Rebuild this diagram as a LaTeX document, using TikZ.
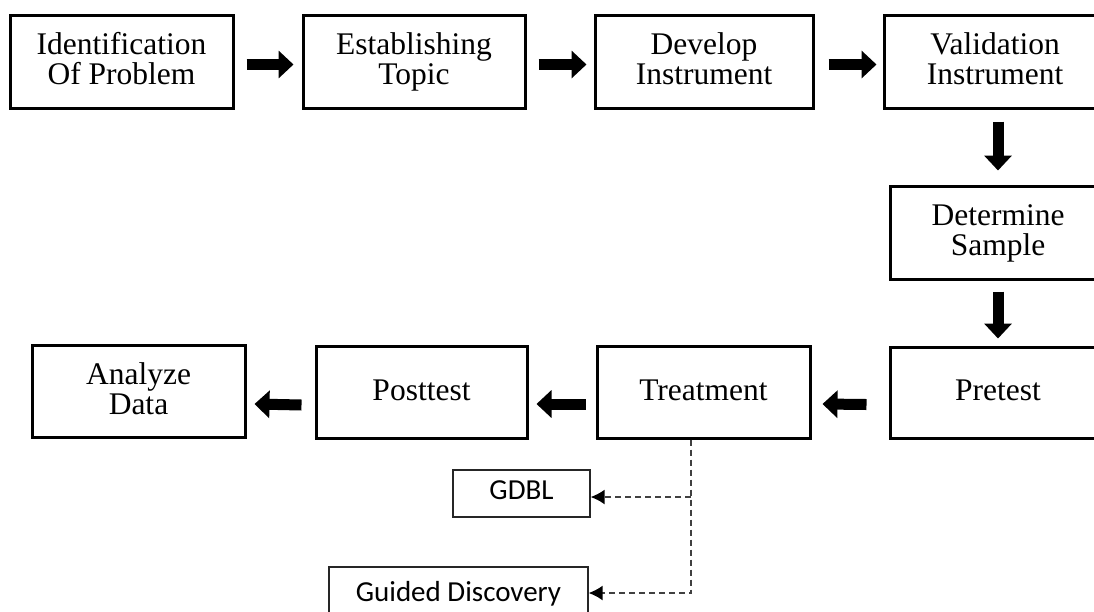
\documentclass[tikz,border=0pt]{standalone}
\usepackage{fontspec}
\setmainfont{Liberation Serif}
\newfontfamily\calfont{Carlito}
\usetikzlibrary{arrows.meta,calc}
\newcommand{\mystrut}{\rule[-6pt]{0pt}{28pt}}
\begin{document}
\begin{tikzpicture}[x=1pt,y=-1pt,
  mainbox/.style={draw=black,line width=3pt,minimum height=93pt,align=center,
    font=\fontsize{31.5}{30}\selectfont,inner sep=0pt},
  smallbox/.style={draw=black!85,line width=1.3pt,align=center,
    font=\calfont\fontsize{29}{30}\selectfont,inner sep=0pt},
  blockarrow/.style={line width=11pt,-{Triangle[width=27pt,length=15pt]}},
  dasharrow/.style={draw=black!75,line width=1.7pt,dash pattern=on 6pt off 4pt,
    -{Latex[length=14pt,width=15pt,black]}}
]
\path[use as bounding box,clip] (0,0) rectangle (1094,611);
\fill[white] (0,0) rectangle (1094,611);

% top row
\node[mainbox,minimum width=223pt] (idp) at (121.5,61.5) {\mystrut Identification\\\mystrut Of Problem};
\node[mainbox,minimum width=222pt] (est) at (414,61.5) {\mystrut Establishing\\\mystrut Topic};
\node[mainbox,minimum width=218pt] (dev) at (704,61.5) {\mystrut Develop\\\mystrut Instrument};
\node[mainbox,minimum width=222pt] (val) at (995,61.5) {\mystrut Validation\\\mystrut Instrument};
% right column
\node[mainbox,minimum width=216pt] (det) at (998,232.5) {\mystrut Determine\\\mystrut Sample};
\node[mainbox,minimum width=216pt,minimum height=91pt] (pre) at (998,392.5) {\mystrut Pretest};
% bottom row
\node[mainbox,minimum width=213pt,minimum height=92pt] (ana) at (138.5,391) {\mystrut Analyze\\\mystrut Data};
\node[mainbox,minimum width=211pt,minimum height=92pt] (pos) at (421.5,392) {\mystrut Posttest};
\node[mainbox,minimum width=213pt,minimum height=92pt] (tre) at (703.5,392) {\mystrut Treatment};
% small boxes
\node[smallbox,minimum width=137pt,minimum height=47pt] (gdbl) at (521.5,493.5) {\strut GDBL};
\node[smallbox,minimum width=259pt,minimum height=56pt] (gd) at (458.5,595) {\strut Guided Discovery};

% block arrows
\draw[blockarrow] ([xshift=12pt,yshift=-3pt]idp.east) -- ([xshift=-8pt,yshift=-3pt]est.west);
\draw[blockarrow] ([xshift=12pt,yshift=-3pt]est.east) -- ([xshift=-7pt,yshift=-3pt]dev.west);
\draw[blockarrow] ([xshift=14pt,yshift=-3pt]dev.east) -- ([xshift=-6pt,yshift=-3pt]val.west);
\draw[blockarrow] ([yshift=-12pt]val.south -| det.north) -- ([yshift=14pt]det.north);
\draw[blockarrow] ([yshift=-11pt]det.south) -- ([yshift=7pt]pre.north);
\draw[blockarrow] ([xshift=-22pt,yshift=-12pt]pre.west) -- ([xshift=11pt,yshift=-12pt]tre.east);
\draw[blockarrow] ([xshift=-10pt,yshift=-12pt]tre.west) -- ([xshift=8pt,yshift=-12pt]pos.east);
\draw[blockarrow] ([xshift=-13pt,yshift=-13pt]pos.west) -- ([xshift=8pt,yshift=-13pt]ana.east);

% dashed connectors
\coordinate (j1) at (691,497);
\coordinate (j2) at (691,593);
\draw[dasharrow] (tre.south -| j1) -- (j2) -- (j2 -| gd.east);
\draw[dasharrow] (j1) -- (j1 -| gdbl.east);
\end{tikzpicture}
\end{document}
